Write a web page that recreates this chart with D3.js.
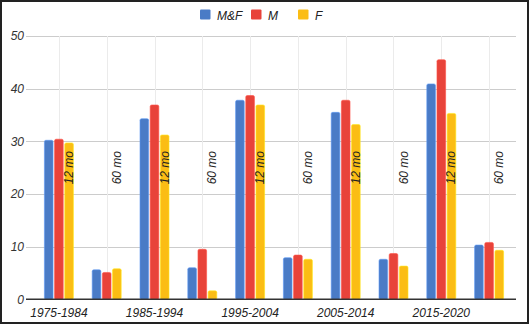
<!DOCTYPE html>
<html><head><meta charset="utf-8">
<script src="https://cdn.jsdelivr.net/npm/d3@7"></script>
<style>
html,body{margin:0;padding:0;background:#fff;}
svg{display:block;font-family:"Liberation Sans",Arial,sans-serif;}
</style></head>
<body>
<svg id="chart" width="530" height="325"></svg>
<script>
const categories = ["1975-1984","60 mo","1985-1994","60 mo","1995-2004","60 mo","2005-2014","60 mo","2015-2020","60 mo"];
const xLabels = ["1975-1984","","1985-1994","","1995-2004","","2005-2014","","2015-2020",""];
const annotations = ["12 mo","60 mo","12 mo","60 mo","12 mo","60 mo","12 mo","60 mo","12 mo","60 mo"];
const seriesNames = ["M&F","M","F"];
const valuesMF = [30.2, 5.6, 34.3, 6.0, 37.8, 7.9, 35.5, 7.6, 40.9, 10.3];
const valuesM  = [30.4, 5.1, 36.9, 9.5, 38.7, 8.4, 37.8, 8.7, 45.5, 10.8];
const valuesF  = [29.7, 5.8, 31.2, 1.6, 36.9, 7.6, 33.2, 6.3, 35.3, 9.3];
const yTicks = [0, 10, 20, 30, 40, 50];
const colors = ["#4a7bc6", "#e8433a", "#fbbd14"];

const series = [valuesMF, valuesM, valuesF];
const svg = d3.select("#chart");

// frame
svg.append("rect").attr("x",1).attr("y",1).attr("width",527).attr("height",322)
  .attr("fill","#fff").attr("stroke","#222").attr("stroke-width",2);

const plotL = 26, plotR = 516, plotT = 36, plotB = 299.3;
const y = d3.scaleLinear().domain([0, 50]).range([plotB, plotT]);
const x = d3.scaleBand().domain(d3.range(categories.length)).range([35, 513]);
const xs = d3.scaleBand().domain(d3.range(seriesNames.length)).range([-14.5, 14.5]).paddingInner(0.15);

// horizontal gridlines
svg.append("g").selectAll("line").data(yTicks.filter(t => t > 0)).join("line")
  .attr("x1", plotL).attr("x2", plotR)
  .attr("y1", d => Math.round(y(d)) + 0.5).attr("y2", d => Math.round(y(d)) + 0.5)
  .attr("stroke", "#cccccc").attr("stroke-width", 1);

// vertical gridlines at category centres
svg.append("g").selectAll("line").data(d3.range(categories.length)).join("line")
  .attr("x1", i => Math.round(x(i) + x.bandwidth()/2) + 0.5)
  .attr("x2", i => Math.round(x(i) + x.bandwidth()/2) + 0.5)
  .attr("y1", plotT).attr("y2", plotB)
  .attr("stroke", "#ebebeb").attr("stroke-width", 1);

// y axis labels
const yAxis = d3.axisLeft(y).tickValues(yTicks).tickSize(0).tickPadding(0).tickFormat(d3.format("d"));
const gy = svg.append("g").attr("transform", "translate(24,0)").call(yAxis);
gy.select(".domain").remove();
gy.selectAll("text").attr("font-size", 12).attr("font-style", "italic").attr("fill", "#333")
  .attr("font-family", "Liberation Sans, Arial, sans-serif");

// bars
series.forEach((vals, s) => {
  svg.append("g").selectAll("rect").data(vals).join("rect")
    .attr("x", (d, i) => x(i) + x.bandwidth()/2 + xs(s))
    .attr("width", xs.bandwidth())
    .attr("y", d => y(d))
    .attr("height", d => plotB - y(d))
    .attr("rx", 1.5)
    .attr("fill", colors[s])
    .attr("stroke", d3.color(colors[s]).brighter(0.6))
    .attr("stroke-width", 0.6);
});

// baseline axis
const xAxis = d3.axisBottom(x).tickSize(0).tickPadding(9).tickFormat(i => xLabels[i]);
const gx = svg.append("g").attr("transform", `translate(0,${plotB})`).call(xAxis);
gx.select(".domain").remove();
gx.selectAll("text").attr("font-size", 12).attr("font-style", "italic").attr("fill", "#222")
  .attr("font-family", "Liberation Sans, Arial, sans-serif");
svg.append("line").attr("x1", plotL).attr("x2", plotR).attr("y1", plotB).attr("y2", plotB)
  .attr("stroke", "#333").attr("stroke-width", 1.5);

// rotated annotations
const annY = y(25);
svg.append("g").selectAll("text").data(annotations).join("text")
  .attr("transform", (d, i) => `translate(${x(i) + x.bandwidth()/2 + xs(2) + xs.bandwidth()/2 + 4},${annY}) rotate(-90)`)
  .attr("text-anchor", "middle")
  .attr("font-size", 12).attr("font-style", "italic").attr("fill", "#222")
  .text(d => d);

// legend
const legendX = [200, 251, 298];
const lg = svg.append("g");
seriesNames.forEach((n, s) => {
  lg.append("rect").attr("x", legendX[s]).attr("y", 9.5).attr("width", 10.5).attr("height", 10)
    .attr("rx", 1).attr("fill", colors[s]);
  lg.append("text").attr("x", legendX[s] + 17).attr("y", 19.5)
    .attr("font-size", 12).attr("font-style", "italic").attr("fill", "#222").text(n);
});
</script>
</body></html>
